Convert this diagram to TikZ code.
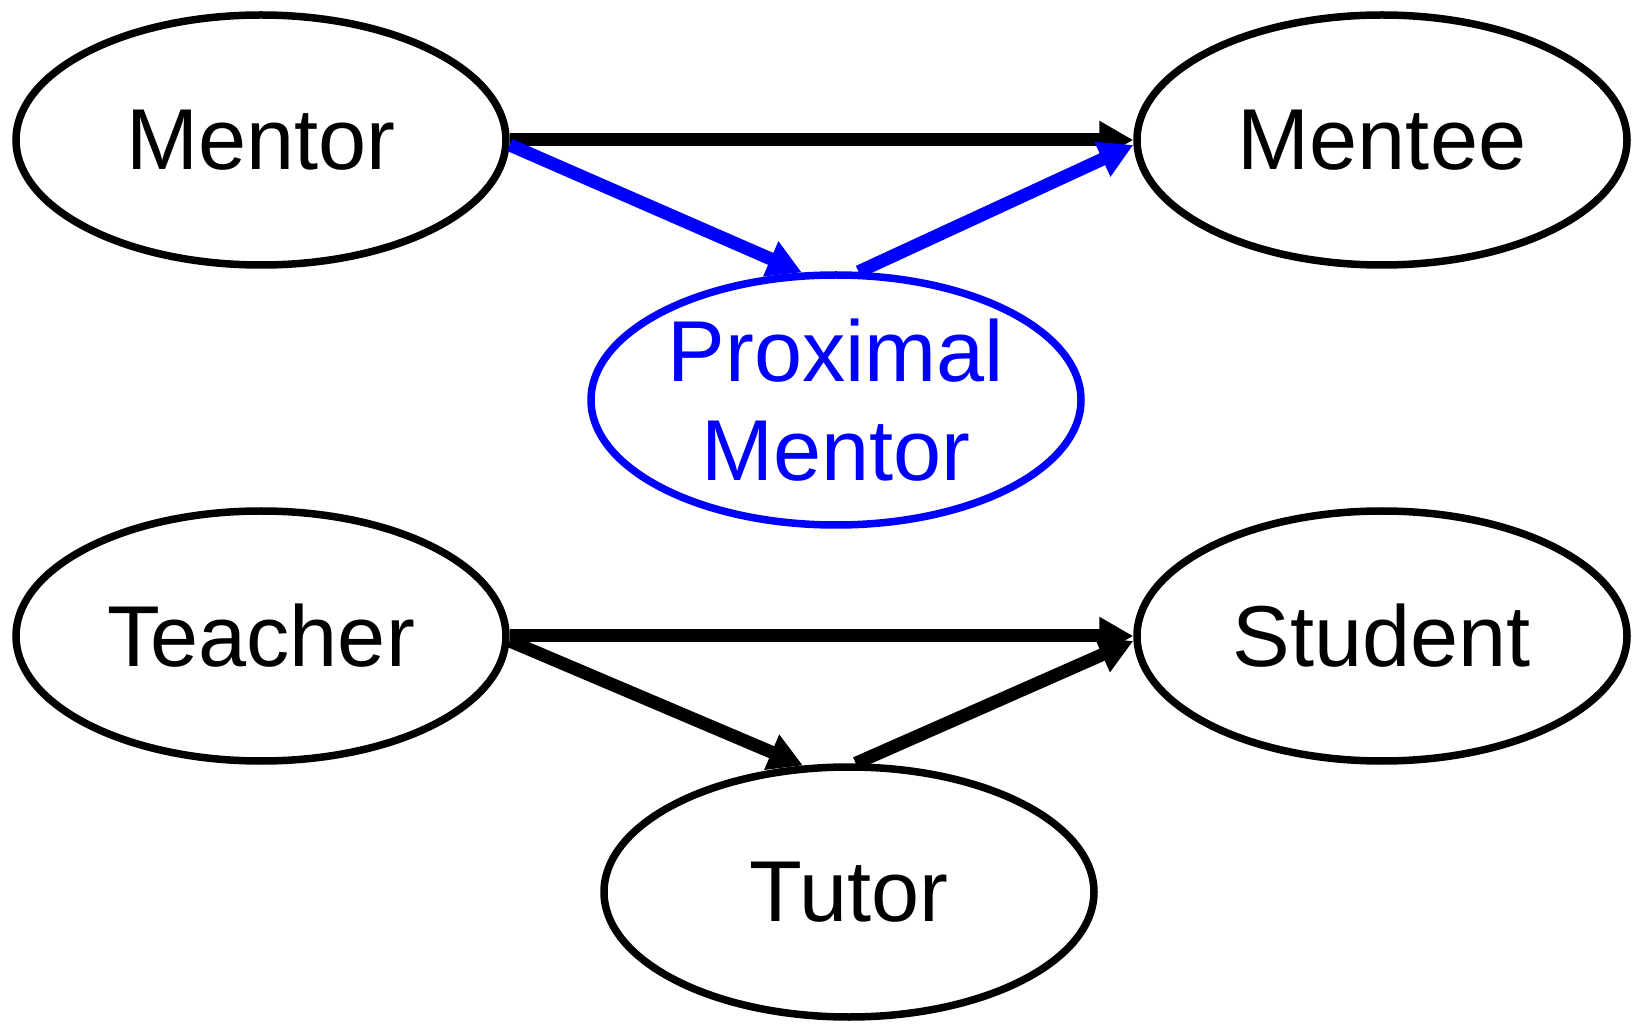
\documentclass[tikz,border=0pt]{standalone}
\usepackage{fontspec}
\setmainfont{Liberation Sans}
\usepackage{tikz}
\usetikzlibrary{shapes,arrows.meta}
\definecolor{proxblue}{RGB}{0,0,255}
\tikzset{
  role/.style={
    shape = ellipse,
    draw,
    line width = 0.75mm,
    inner sep = 0pt,
    minimum width = 4.9cm,
    minimum height = 2.5cm,
    align = center,
    font = \fontsize{24.6}{28.2}\selectfont
  },
  link/.style={
    line width = 1.3mm,
    -{Triangle[length=3.4mm,width=3.6mm]}
  },
  every picture/.style = {
    baseline={([yshift=-.5ex]current bounding box.center)}
  }
}
\begin{document}
\begin{tikzpicture}
        \useasboundingbox (0,0) rectangle (16.33,10.24);
        \node[role] (mentor) at (2.61,8.84) {Mentor};
        \node[role] (mentee) at (13.82,8.84) {Mentee};
        \node[role,draw=proxblue,text=proxblue] (prox) at (8.36,6.24) {Proximal\\Mentor};
        \node[role] (teacher) at (2.61,3.88) {Teacher};
        \node[role] (student) at (13.82,3.88) {Student};
        \node[role] (tutor) at (8.49,1.32) {Tutor};
        % direct links
        \draw[link] (mentor.east) -- (mentee.west);
        \draw[link] (teacher.east) -- (student.west);
        % via the middle
        \draw[link,proxblue] ([yshift=-0.5mm]mentor.east) -- (prox.105);
        \draw[link,proxblue] (prox.80) -- ([yshift=-0.5mm]mentee.west);
        \draw[link] ([yshift=-0.5mm]teacher.east) -- (tutor.110);
        \draw[link] (tutor.87) -- ([yshift=-0.5mm]student.west);
    \end{tikzpicture}
\end{document}
